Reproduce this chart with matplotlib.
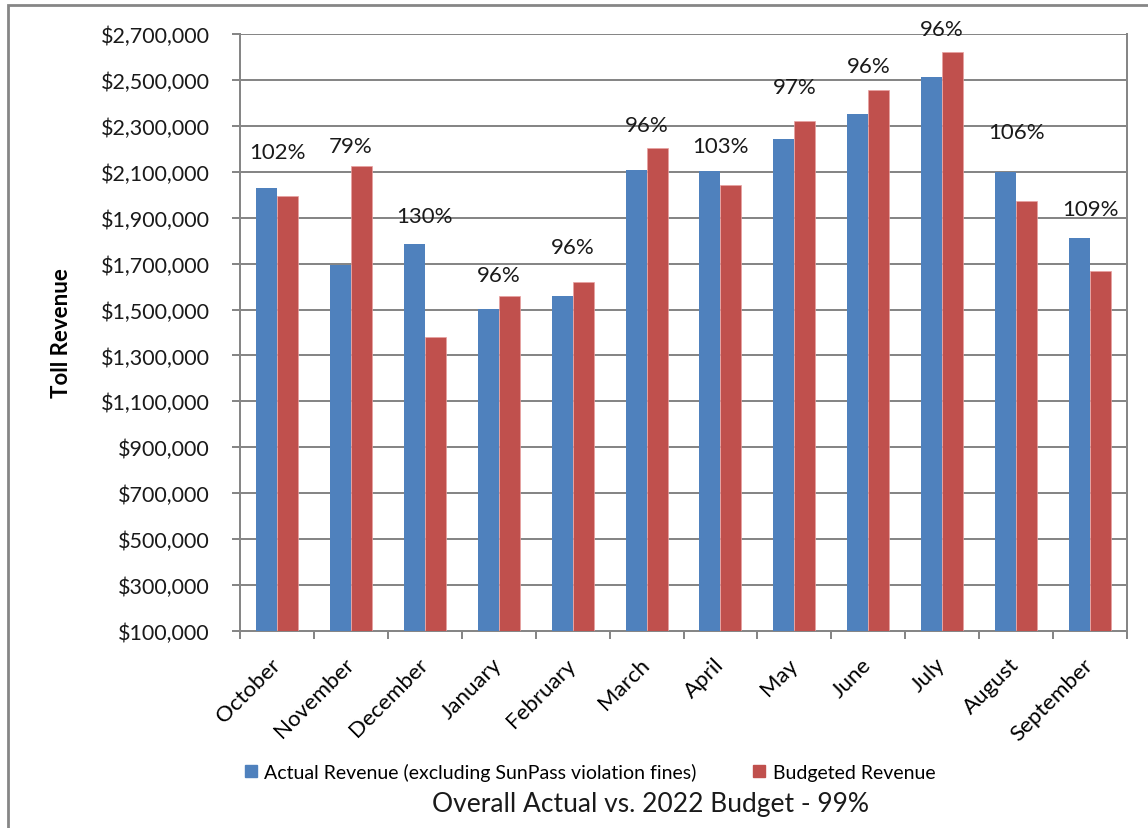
import numpy as np
import matplotlib.pyplot as plt
from matplotlib.patches import Rectangle, Patch
from matplotlib.ticker import FuncFormatter, FixedLocator
from matplotlib.transforms import ScaledTranslation

plt.rcParams['font.family'] = ['Lato', 'DejaVu Sans']

months = ['October', 'November', 'December', 'January', 'February', 'March',
          'April', 'May', 'June', 'July', 'August', 'September']
actual = [2028000, 1694000, 1787000, 1502000, 1558000, 2109000,
          2102000, 2244000, 2350000, 2511000, 2100000, 1813000]
budget = [1993000, 2127000, 1379000, 1558000, 1619000, 2204000,
          2044000, 2323000, 2458000, 2620000, 1971000, 1669000]
pct_labels = ['102%', '79%', '130%', '96%', '96%', '96%',
              '103%', '97%', '96%', '96%', '106%', '109%']
# heights where the percentage labels sit
pct_y = [2186000, 2212000, 1907000, 1650000, 1772000, 2304000,
         2212000, 2469000, 2561000, 2722000, 2273000, 1938000]
y_ticks = np.arange(100000, 2700001, 200000)

blue = '#4F81BD'
red = '#C0504D'
grey = '#868686'

W, H = 1148, 829
PX = 0.72  # points per pixel at dpi 100
fig = plt.figure(figsize=(W / 100, H / 100), dpi=100)
ax = fig.add_axes([240 / W, 1 - 632 / H, (1127 - 240) / W, (632 - 35) / H])

x = np.arange(len(months))
bw = 0.284
ax.bar(x - bw / 2, actual, bw, color=blue, zorder=3)
ax.bar(x + bw / 2, budget, bw, color=red, edgecolor='#E8A0A0', linewidth=0.5, zorder=3)

for xi, t, yv in zip(x, pct_labels, pct_y):
    ax.text(xi, yv, t, ha='center', va='center', fontsize=16, color='#1a1a1a', zorder=4)

ax.set_ylim(100000, 2700000)
ax.set_xlim(-0.5, len(months) - 0.5)
ax.yaxis.set_major_locator(FixedLocator(y_ticks))
ax.yaxis.set_major_formatter(FuncFormatter(lambda v, p: '${:,.0f}'.format(v)))
ax.grid(axis='y', color=grey, linewidth=2 * PX, zorder=0)
ax.set_axisbelow(True)

ax.set_xticks(x)
ax.set_xticklabels(months, rotation=45, ha='right', va='center',
                   rotation_mode='anchor', fontsize=16)
shift = ScaledTranslation(4 / 100, 0, fig.dpi_scale_trans)
for lab in ax.get_xticklabels():
    lab.set_transform(lab.get_transform() + shift)
ax.set_xticks(np.arange(-0.5, len(months)), minor=True)
ax.tick_params(axis='x', which='major', length=0, pad=30 * PX)
ax.tick_params(axis='x', which='minor', length=8 * PX, width=2 * PX, color=grey)
ax.tick_params(axis='y', length=8 * PX, width=2 * PX, color=grey, labelsize=15.5,
               pad=22 * PX, labelcolor='#1a1a1a')

for s in ax.spines.values():
    s.set_color(grey)
    s.set_linewidth(2 * PX)
ax.spines['top'].set_visible(False)

fig.text(62 / W, 1 - 333 / H, 'Toll Revenue', rotation=90, ha='center', va='center',
         fontsize=16, fontweight='bold')

handles = [Patch(color=blue), Patch(color=red)]
fig.legend(handles, ['Actual Revenue (excluding SunPass violation fines)', 'Budgeted Revenue'],
           loc='center', bbox_to_anchor=(590 / W, 1 - 773 / H), ncol=2, frameon=False,
           fontsize=14, handlelength=0.6, handleheight=0.6, handletextpad=0.4,
           columnspacing=2.9, borderpad=0, borderaxespad=0)
fig.text(650 / W, 1 - 805 / H, 'Overall Actual vs. 2022 Budget - 99%', ha='center',
         va='center', fontsize=19, color='#1a1a1a')

fig.patches.append(Rectangle((8 / W, -0.1), 1.2, 1 - 6 / H + 0.1, transform=fig.transFigure,
                             fill=False, edgecolor=grey, linewidth=2))

fig.savefig('out.png', dpi=100)
